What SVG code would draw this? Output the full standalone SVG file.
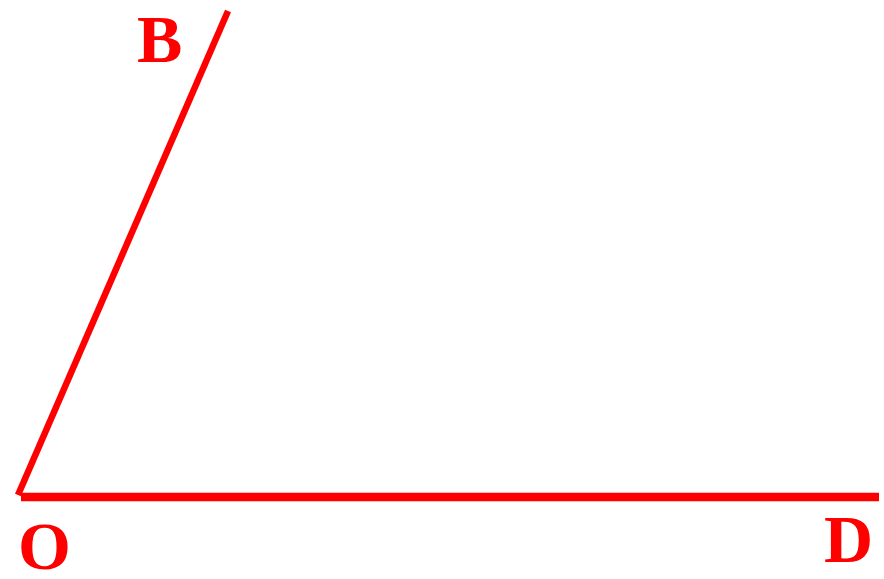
<svg xmlns="http://www.w3.org/2000/svg" width="884" height="579" viewBox="0 0 884 579">
<style>
.ln{stroke:#ff0000;fill:none;stroke-linecap:butt}
.lb{font-family:"Liberation Serif","Times New Roman",serif;font-weight:bold;font-size:68px;fill:#ff0000}
</style>
<rect width="884" height="579" fill="#ffffff"/>
<g id="connectors">
<line class="ln" x1="18" y1="495" x2="228" y2="11" stroke-width="6.5"/>
<line class="ln" x1="21" y1="497" x2="879" y2="497" stroke-width="8.5"/>
</g>
<g id="B"><text class="lb" x="137" y="62">B</text></g>
<g id="O"><text class="lb" x="18" y="569">O</text></g>
<g id="D"><text class="lb" x="824" y="562">D</text></g>
</svg>
